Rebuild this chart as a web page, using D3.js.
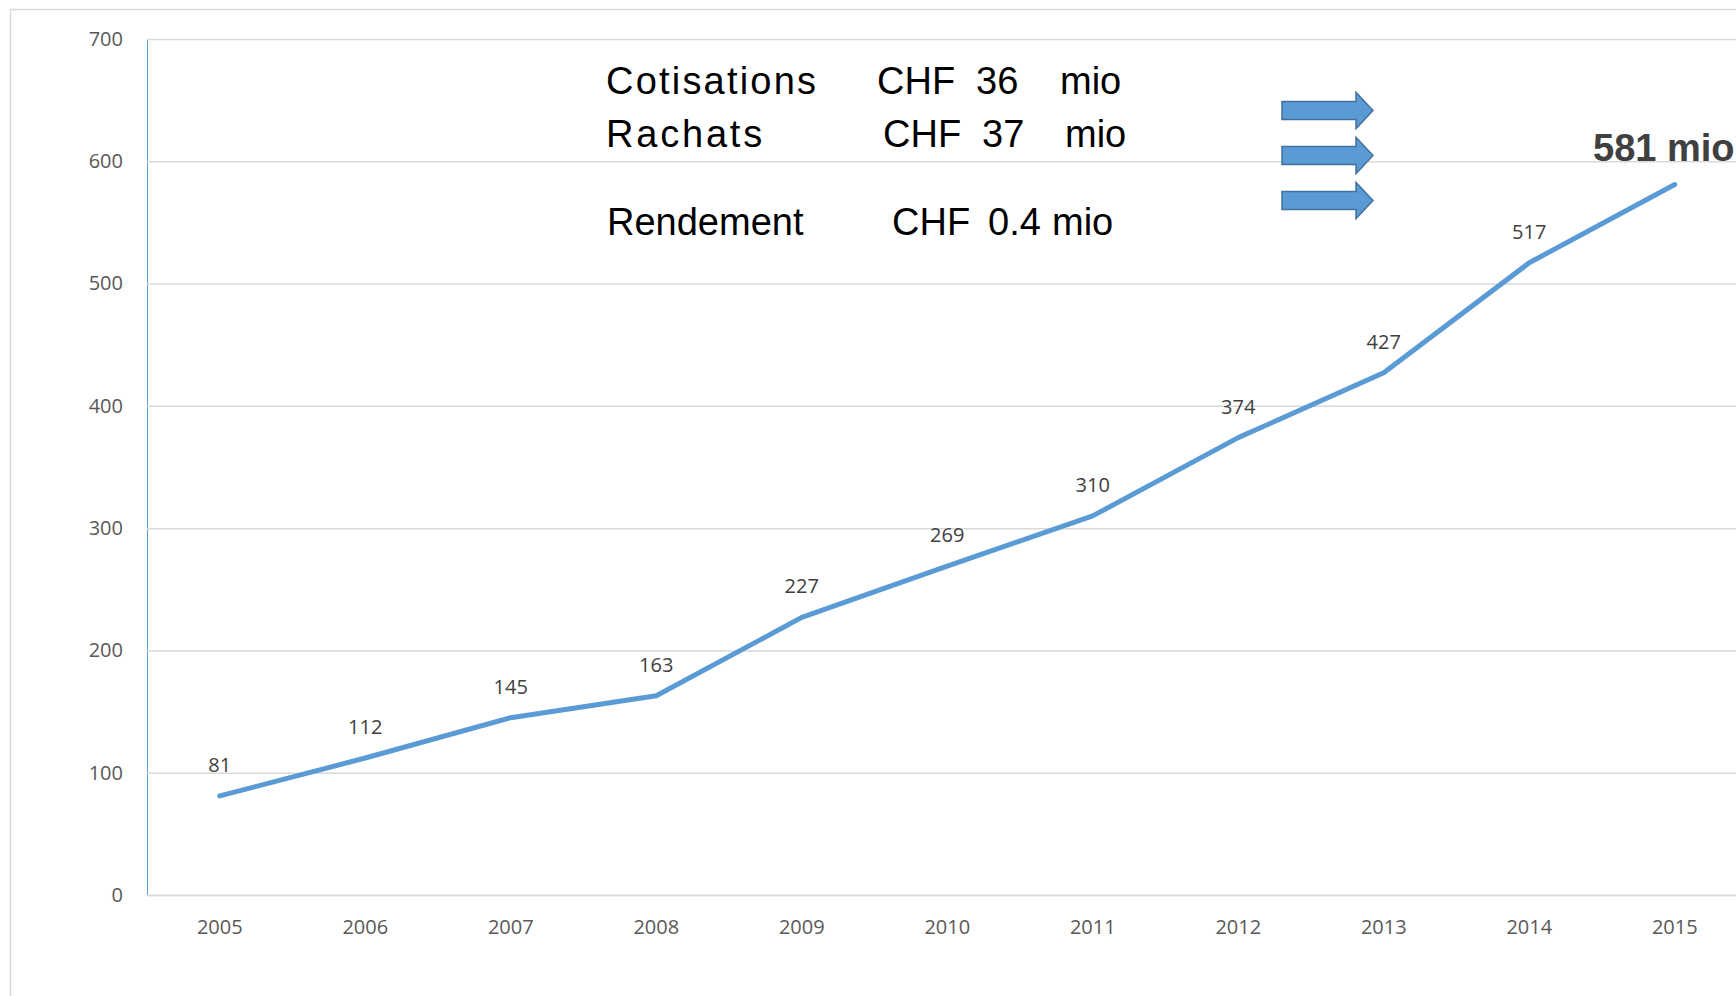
<!DOCTYPE html>
<html>
<head>
<meta charset="utf-8">
<script src="https://cdn.jsdelivr.net/npm/d3@7"></script>
<style>
  body { margin: 0; background: #fff; }
  svg { display: block; }
  .tick text { font-family: "Open Sans", sans-serif; font-size: 20px; fill: #595959; }
  .grid .tick line { stroke: #d9d9d9; stroke-width: 1.5; }
  .label { font-family: "Open Sans", sans-serif; font-size: 20px; fill: #404040; text-anchor: middle; }
  .note { font-family: "Liberation Sans", Arial, sans-serif; font-size: 38px; fill: #000; }
  .total { font-family: "Liberation Sans", Arial, sans-serif; font-size: 38px; font-weight: bold; fill: #404040; }
</style>
</head>
<body>
<div id="chart"></div>
<script>
const YEARS = ["2005", "2006", "2007", "2008", "2009", "2010", "2011", "2012", "2013", "2014", "2015"];
const VALUES = [81, 112, 145, 163, 227, 269, 310, 374, 427, 517, 581];
const Y_TICKS = [0, 100, 200, 300, 400, 500, 600, 700];
const NOTE_LABELS = ["Cotisations", "Rachats", "Rendement"];
const NOTE_AMOUNTS = ["36", "37", "0.4"];
const NOTE_CURRENCY = "CHF";
const NOTE_UNIT = "mio";
const TOTAL_TEXT = "581 mio";

const WIDTH = 1736;
const HEIGHT = 996;
const LEFT = 147;
const TOP = 39;
const BOTTOM = 895;
const BAND = 145.5;
const BLUE = "#5b9bd5";

// note block layout, one entry per row (the original text box is a bit ragged)
const NOTE_Y = [94, 147, 235];
const NOTE_X_LABEL = [606, 606, 607];
const NOTE_LABEL_SPACING = [2.2, 2.8, 0];
const NOTE_X_CURRENCY = [877, 883, 892];
const NOTE_X_AMOUNT = [976, 982, 988];
const NOTE_X_UNIT = [1060, 1065, 1052];
const ARROW_Y = [110.5, 155.5, 200.5];

var svg = d3.select("#chart")
  .append("svg")
  .attr("width", WIDTH)
  .attr("height", HEIGHT);

// outer chart frame (cut off on the right and bottom)
svg.append("rect")
  .attr("x", 10.5)
  .attr("y", 9.5)
  .attr("width", 1900)
  .attr("height", 1200)
  .attr("fill", "none")
  .attr("stroke", "#d9d9d9")
  .attr("stroke-width", 1.5);

var xScale = d3.scaleBand()
  .domain(YEARS)
  .range([LEFT, LEFT + BAND * YEARS.length]);

var yScale = d3.scaleLinear()
  .domain([0, 700])
  .range([BOTTOM, TOP]);

var yAxis = svg.append("g")
  .attr("class", "grid")
  .attr("transform", `translate(${LEFT}, 0)`)
  .call(d3.axisLeft(yScale)
    .tickValues(Y_TICKS)
    .tickSizeInner(-(WIDTH - LEFT))
    .tickSizeOuter(0)
    .tickPadding(24));
yAxis.select(".domain")
  .attr("stroke", BLUE)
  .attr("stroke-width", 1);

var xAxis = svg.append("g")
  .attr("transform", `translate(0, ${BOTTOM})`)
  .call(d3.axisBottom(xScale)
    .tickSize(0)
    .tickPadding(25));
xAxis.select(".domain")
  .attr("stroke", "#d9d9d9")
  .attr("stroke-width", 1.5);

var points = YEARS.map((y, i) => ({ year: y, value: VALUES[i] }));
var getX = d => xScale(d.year) + xScale.bandwidth() / 2;
var getY = d => yScale(d.value);

var line = d3.line()
  .x(getX)
  .y(getY);

svg.append("path")
  .datum(points)
  .attr("d", line)
  .attr("fill", "none")
  .attr("stroke", BLUE)
  .attr("stroke-width", 5)
  .attr("stroke-linecap", "round")
  .attr("stroke-linejoin", "round");

// data labels, skip the last one (shown as big total)
svg.selectAll("text.label")
  .data(points.slice(0, points.length - 1))
  .enter()
  .append("text")
  .attr("class", "label")
  .attr("x", getX)
  .attr("y", d => getY(d) - 24)
  .text(d => d.value);

svg.append("text")
  .attr("class", "total")
  .attr("x", 1593)
  .attr("y", 161)
  .text(TOTAL_TEXT);

// note block
var addNote = function(x, y, txt) {
  return svg.append("text")
    .attr("class", "note")
    .attr("x", x)
    .attr("y", y)
    .text(txt);
};

NOTE_LABELS.forEach((label, i) => {
  addNote(NOTE_X_LABEL[i], NOTE_Y[i], label)
    .style("letter-spacing", NOTE_LABEL_SPACING[i] + "px");
  addNote(NOTE_X_CURRENCY[i], NOTE_Y[i], NOTE_CURRENCY);
  addNote(NOTE_X_AMOUNT[i], NOTE_Y[i], NOTE_AMOUNTS[i]);
  addNote(NOTE_X_UNIT[i], NOTE_Y[i], NOTE_UNIT);
});

// block arrows
var arrow = function(cy) {
  var x0 = 1282, x1 = 1356, x2 = 1373;
  return `M${x0},${cy - 9} L${x1},${cy - 9} L${x1},${cy - 18} L${x2},${cy} ` +
    `L${x1},${cy + 18} L${x1},${cy + 9} L${x0},${cy + 9} Z`;
};

svg.selectAll("path.arrow")
  .data(ARROW_Y)
  .enter()
  .append("path")
  .attr("class", "arrow")
  .attr("d", arrow)
  .attr("fill", BLUE)
  .attr("stroke", "#41719c")
  .attr("stroke-width", 1.5);
</script>
</body>
</html>
